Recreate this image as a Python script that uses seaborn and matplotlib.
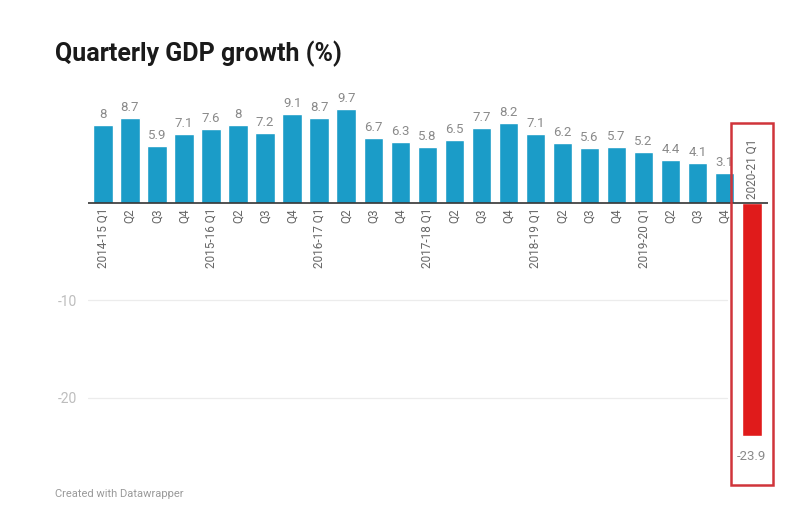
import matplotlib
matplotlib.use("Agg")
import matplotlib.pyplot as plt
import matplotlib.transforms as mtransforms
from matplotlib.patches import Rectangle
import seaborn as sns
import pandas as pd

quarters = ["2014-15 Q1", "2014-15 Q2", "2014-15 Q3", "2014-15 Q4",
            "2015-16 Q1", "2015-16 Q2", "2015-16 Q3", "2015-16 Q4",
            "2016-17 Q1", "2016-17 Q2", "2016-17 Q3", "2016-17 Q4",
            "2017-18 Q1", "2017-18 Q2", "2017-18 Q3", "2017-18 Q4",
            "2018-19 Q1", "2018-19 Q2", "2018-19 Q3", "2018-19 Q4",
            "2019-20 Q1", "2019-20 Q2", "2019-20 Q3", "2019-20 Q4",
            "2020-21 Q1"]
tick_labels = ["2014-15 Q1", "Q2", "Q3", "Q4",
               "2015-16 Q1", "Q2", "Q3", "Q4",
               "2016-17 Q1", "Q2", "Q3", "Q4",
               "2017-18 Q1", "Q2", "Q3", "Q4",
               "2018-19 Q1", "Q2", "Q3", "Q4",
               "2019-20 Q1", "Q2", "Q3", "Q4",
               "2020-21 Q1"]
growth = [8, 8.7, 5.9, 7.1, 7.6, 8, 7.2, 9.1, 8.7, 9.7, 6.7, 6.3, 5.8,
          6.5, 7.7, 8.2, 7.1, 6.2, 5.6, 5.7, 5.2, 4.4, 4.1, 3.1, -23.9]
value_labels = ["8", "8.7", "5.9", "7.1", "7.6", "8", "7.2", "9.1", "8.7", "9.7",
                "6.7", "6.3", "5.8", "6.5", "7.7", "8.2", "7.1", "6.2", "5.6",
                "5.7", "5.2", "4.4", "4.1", "3.1", "-23.9"]
y_ticks = [-10, -20]
y_tick_labels = ["-10", "-20"]

BLUE = "#1b9cc8"
RED = "#e01b1b"

df = pd.DataFrame({"quarter": quarters, "growth": growth})
df["kind"] = ["neg" if v < 0 else "pos" for v in growth]

sns.set_theme(style="white")
plt.rcParams["font.family"] = ["Roboto", "DejaVu Sans"]

fig = plt.figure(figsize=(8, 5.23), dpi=100)
W, H = 800, 523
ax_l, ax_r, ax_t, ax_b = 88, 768, 90, 470
ax = fig.add_axes([ax_l / W, 1 - ax_b / H, (ax_r - ax_l) / W, (ax_b - ax_t) / H])

sns.barplot(data=df, x="quarter", y="growth", hue="kind", order=quarters,
            palette={"pos": BLUE, "neg": RED}, dodge=False, width=0.72,
            legend=False, ax=ax, saturation=1)

ax.set_xlim(-0.55, len(quarters) - 0.4)
ax.set_ylim(-27.4, 11.6)

for s in ax.spines.values():
    s.set_visible(False)
ax.set_xlabel("")
ax.set_ylabel("")
ax.set_xticks([])
ax.set_yticks(y_ticks)
ax.set_yticklabels(y_tick_labels, color="#bdbdbd", fontsize=10)
ax.tick_params(axis="y", length=0, pad=8)
for t in y_ticks:
    ax.axhline(t, color="#ececec", lw=0.9, zorder=0, xmax=0.94)
ax.axhline(0, color="#333333", lw=1.2, zorder=3)

down = mtransforms.offset_copy(ax.transData, fig=fig, x=0, y=-5, units="dots")
up = mtransforms.offset_copy(ax.transData, fig=fig, x=0, y=4, units="dots")
down_v = mtransforms.offset_copy(ax.transData, fig=fig, x=0, y=-14, units="dots")

for i, (lab, v, vl) in enumerate(zip(tick_labels, growth, value_labels)):
    if v >= 0:
        ax.text(i, 0, lab, transform=down, rotation=90, ha="center", va="top",
                fontsize=8.5, color="#666666")
        ax.text(i, v, vl, transform=up, ha="center", va="bottom",
                fontsize=9.5, color="#8a8a8a")
    else:
        ax.text(i, 0, lab, transform=up, rotation=90, ha="center", va="bottom",
                fontsize=8.5, color="#666666")
        ax.text(i, v, vl, transform=down_v, ha="center", va="top",
                fontsize=9.5, color="#8a8a8a")

fig.text(55 / W, 1 - 54 / H, "Quarterly GDP growth (%)", fontsize=18,
         fontweight="bold", color="#1a1a1a", va="center", ha="left")
fig.text(55 / W, 1 - 494 / H, "Created with Datawrapper", fontsize=8,
         color="#9a9a9a", va="center", ha="left")

box = Rectangle((731 / W, 1 - 485 / H), (773 - 731) / W, (485 - 123) / H,
                transform=fig.transFigure, fill=False, edgecolor="#d0343a",
                lw=1.8, zorder=10)
fig.patches.append(box)

fig.savefig("out.png", dpi=100)
